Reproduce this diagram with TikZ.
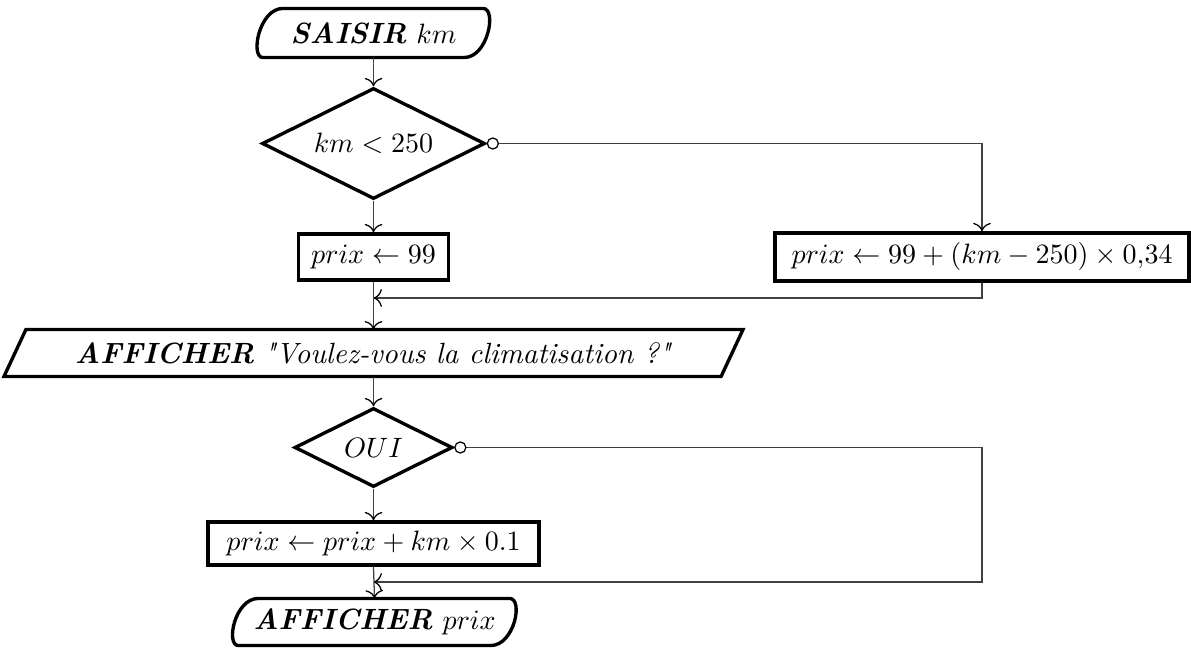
\documentclass[tikz,border=0pt]{standalone}
\usetikzlibrary{arrows.meta,shapes.geometric,calc}
\newcommand{\pxu}{0.3571pt}
\newcommand{\termpath}[1]{%
  \draw[shp] ($(#1.south west)+(7,0)$)
    .. controls ($(#1.south west)+(-6,0)$) and ($(#1.north west)+(3,0)$) .. ($(#1.north west)+(27,0)$)
    -- ($(#1.north east)+(-8,0)$)
    .. controls ($(#1.north east)+(6,0)$) and ($(#1.south east)+(-3,0)$) .. ($(#1.south east)+(-27,0)$)
    -- cycle;}
\begin{document}
\begin{tikzpicture}[x=0.3571pt,y=-0.3571pt,
  font=\fontsize{10.45}{13}\selectfont,
  shp/.style={line width=1.2pt},
  box/.style={shp,draw,rectangle,inner sep=0pt},
  dec/.style={shp,draw,diamond,shape aspect=2,inner sep=0pt},
  ghost/.style={rectangle,inner sep=0pt},
  conn/.style={line width=0.45pt,draw=black!75,-{To[length=3pt,color=black]}},
  cconn/.style={line width=0.45pt,draw=black!75,{Circle[open,length=4.4pt,width=4.4pt,color=black]}-{To[length=3pt,color=black]}},
]
\useasboundingbox (0,0) rectangle (1191,649);

\node[ghost,minimum width=234*\pxu,minimum height=48*\pxu] (t1) at (373.5,33) {\textbf{\textit{SAISIR}} $km$};
\termpath{t1}

\node[dec,minimum width=223*\pxu,minimum height=111*\pxu] (d1) at (373.5,143.5) {$km < 250$};
\node[box,minimum width=150*\pxu,minimum height=46*\pxu] (b1) at (373.5,257) {$prix \leftarrow 99$};
\node[box,minimum width=414*\pxu,minimum height=48*\pxu] (b2) at (982,257) {$prix \leftarrow 99 + (km - 250) \times 0{,}34$};

\node[ghost,minimum width=738*\pxu,minimum height=46*\pxu] (p1) at (373.5,353) {\textbf{\textit{AFFICHER}} \textit{\textquotedbl Voulez-vous la climatisation ?\textquotedbl}};
\draw[shp] (p1.south west) -- ($(p1.north west)+(22,0)$) -- (p1.north east) -- ($(p1.south east)+(-22,0)$) -- cycle;

\node[dec,minimum width=158*\pxu,minimum height=79*\pxu] (d2) at (373.5,447.5) {$OUI$};
\node[box,minimum width=331*\pxu,minimum height=43*\pxu] (b3) at (373.5,543.5) {$prix \leftarrow prix + km \times 0.1$};

\node[ghost,minimum width=285*\pxu,minimum height=46*\pxu] (t2) at (374.5,622) {\textbf{\textit{AFFICHER}} $prix$};
\termpath{t2}

\coordinate (m1) at (373.5,298);
\coordinate (m2) at (373.5,582);
\coordinate (r2) at (982,582);

\draw[conn] (t1.south) -- (d1.north);
\draw[conn] (d1.south) -- (b1.north);
\draw[cconn] (d1.east) -| (b2.north);
\draw[conn] (b2.south) |- (m1);
\draw[conn] (b1.south) -- (p1.north);
\draw[conn] (p1.south) -- (d2.north);
\draw[conn] (d2.south) -- (b3.north);
\draw[cconn] (d2.east) -| (r2) -- (m2);
\draw[conn] (b3.south) -- (t2.north);
\end{tikzpicture}
\end{document}
